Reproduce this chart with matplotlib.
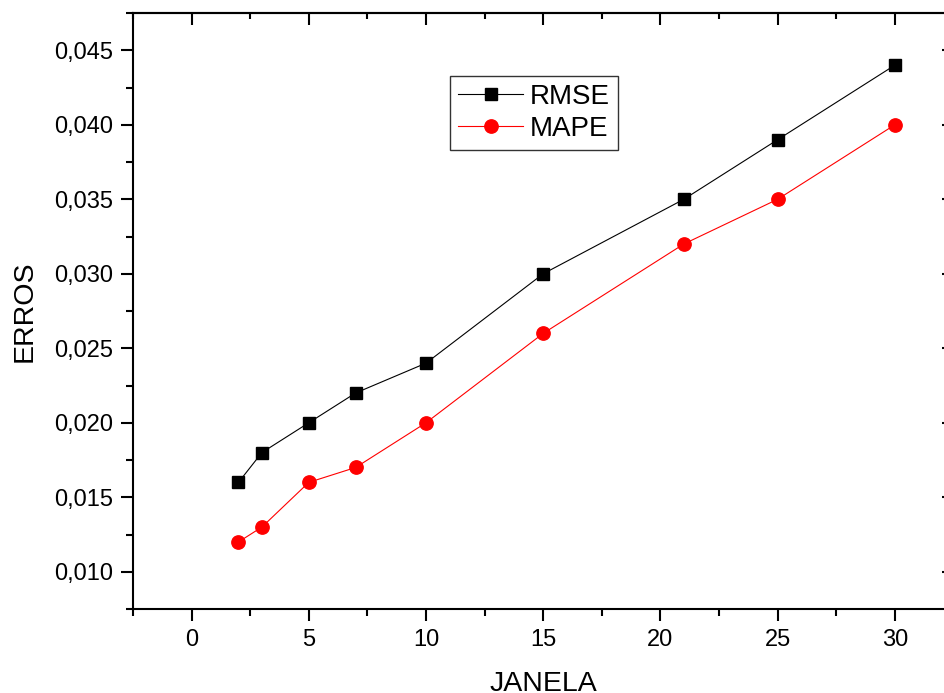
import matplotlib
matplotlib.use("Agg")
import matplotlib.pyplot as plt
from matplotlib.ticker import FuncFormatter, MultipleLocator

janela = [2, 3, 5, 7, 10, 15, 21, 25, 30]
rmse = [0.016, 0.018, 0.020, 0.022, 0.024, 0.030, 0.035, 0.039, 0.044]
mape = [0.012, 0.013, 0.016, 0.017, 0.020, 0.026, 0.032, 0.035, 0.040]

plt.rcParams['font.family'] = ['Liberation Sans', 'DejaVu Sans']

fig = plt.figure(figsize=(9.45, 6.93), dpi=100)
ax = fig.add_axes([133/945, 1 - 609/693, (953.5 - 133)/945, (609 - 13)/693])

ax.plot(janela, rmse, color='black', lw=0.8, marker='s', ms=8.6, mfc='black', mec='black', label='RMSE')
ax.plot(janela, mape, color='red', lw=0.8, marker='o', ms=9.6, mfc='red', mec='red', label='MAPE')

ax.set_xlim(-2.5, 32.5)
ax.set_ylim(0.0075, 0.0475)
ax.xaxis.set_major_locator(MultipleLocator(5))
ax.xaxis.set_minor_locator(MultipleLocator(2.5))
ax.yaxis.set_major_locator(MultipleLocator(0.005))
ax.yaxis.set_minor_locator(MultipleLocator(0.0025))
ax.yaxis.set_major_formatter(FuncFormatter(lambda v, p: f"{v:.3f}".replace('.', ',')))
ax.xaxis.set_major_formatter(FuncFormatter(lambda v, p: f"{v:g}"))

for s in ax.spines.values():
    s.set_linewidth(1.5)

ax.tick_params(which='both', direction='out', top=False, right=False, width=1.5, labelsize=17)
ax.tick_params(which='major', length=8.5)
ax.tick_params(which='minor', length=5)
ax.tick_params(axis='x', pad=6)
ax.tick_params(axis='y', pad=6)
# inward ticks on top and right
axt = ax.secondary_xaxis('top')
axt.xaxis.set_major_locator(MultipleLocator(5))
axt.xaxis.set_minor_locator(MultipleLocator(2.5))
axt.tick_params(which='both', direction='in', width=1.5, labeltop=False)
axt.tick_params(which='major', length=8.5)
axt.tick_params(which='minor', length=4.5)
axt.spines['top'].set_linewidth(1.5)
axr = ax.secondary_yaxis('right')
axr.yaxis.set_major_locator(MultipleLocator(0.005))
axr.yaxis.set_minor_locator(MultipleLocator(0.0025))
axr.tick_params(which='both', direction='in', width=1.5, labelright=False)
axr.tick_params(which='major', length=8.5)
axr.tick_params(which='minor', length=4.5)

ax.set_xlabel('JANELA', fontsize=20.5, labelpad=14)
ax.set_ylabel('ERROS', fontsize=20.5, labelpad=12)

leg = ax.legend(loc='upper left', bbox_to_anchor=(0.3865, 0.894), borderaxespad=0,
                fontsize=20, fancybox=False, frameon=True, edgecolor='black',
                handlelength=2.35, handletextpad=0.25, borderpad=0.28, labelspacing=0.22)
leg.get_frame().set_linewidth(1.0)

fig.savefig('out.png', dpi=100)
